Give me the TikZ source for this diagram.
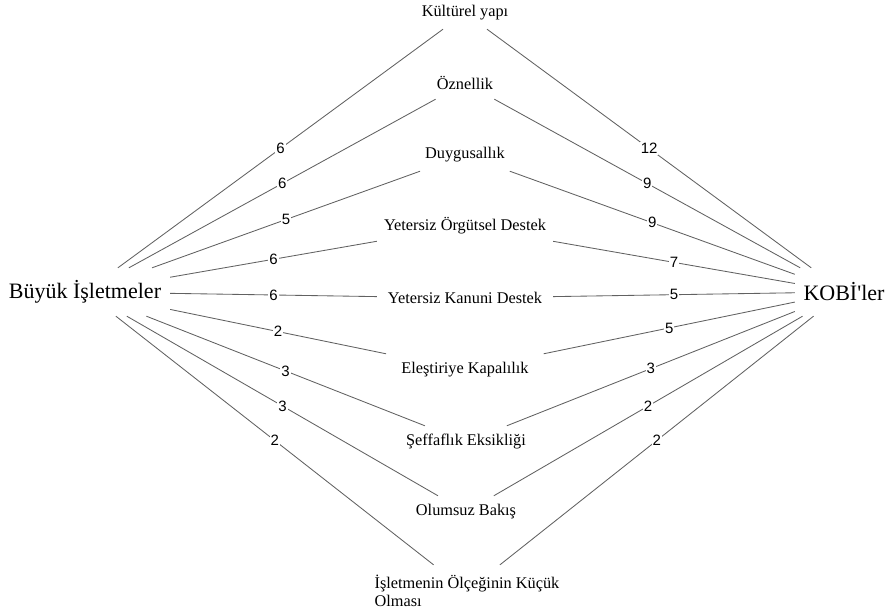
\documentclass[tikz,border=0pt]{standalone}
\usepackage{fontspec}
\setmainfont{Liberation Serif}
\newfontfamily\numfont{Liberation Sans}
\usetikzlibrary{positioning}
\colorlet{linkgray}{black!62}
\tikzset{
  side/.style={inner sep=0pt, minimum height=48pt, font=\fontsize{22}{26}\selectfont},
  factor/.style={inner sep=3pt, minimum width=176pt, minimum height=32pt, font=\fontsize{16.3}{18}\selectfont},
  count/.style={fill=white, inner sep=1pt, font=\numfont\fontsize{15}{15}\selectfont},
  link/.style={draw=linkgray, line width=0.85pt}
}

\begin{document}
\begin{tikzpicture}[x=1pt, y=-1pt]
  \useasboundingbox (0,0) rectangle (887,615);
  % two sides
  \node[side, minimum width=170pt] (big) at (85,292) {Büyük İşletmeler};
  \node[side, minimum width=98pt] (kobi) at (844,292) {KOBİ\textquotesingle ler};

  % factors in the middle column
  \node[factor] (kultur) at (465,13) {Kültürel yapı};
  \node[factor] (oznel) at (465,83) {Öznellik};
  \node[factor] (duygu) at (465,155) {Duygusallık};
  \node[factor] (orgut) at (465,226) {Yetersiz Örgütsel Destek};
  \node[factor] (kanun) at (465,298) {Yetersiz Kanuni Destek};
  \node[factor] (elest) at (465,370) {Eleştiriye Kapalılık};
  \node[factor] (seffaf) at (466,442) {Şeffaflık Eksikliği};
  \node[factor] (olumsuz) at (466,512) {Olumsuz Bakış};
  \node[factor, minimum height=52pt, align=left] (olcek) at (467,591) {İşletmenin Ölçeğinin Küçük\\Olması};

  % left links
  \draw[link] (big) -- node[count] {6} (kultur);
  \draw[link] (big) -- node[count] {6} (oznel);
  \draw[link] (big) -- node[count] {5} (duygu);
  \draw[link] (big) -- node[count] {6} (orgut);
  \draw[link] (big) -- node[count] {6} (kanun);
  \draw[link] (big) -- node[count] {2} (elest);
  \draw[link] (big) -- node[count] {3} (seffaf);
  \draw[link] (big) -- node[count] {3} (olumsuz);
  \draw[link] (big) -- node[count] {2} (olcek);

  % right links
  \draw[link] (kultur) -- node[count] {12} (kobi);
  \draw[link] (oznel) -- node[count] {9} (kobi);
  \draw[link] (duygu) -- node[count] {9} (kobi);
  \draw[link] (orgut) -- node[count] {7} (kobi);
  \draw[link] (kanun) -- node[count] {5} (kobi);
  \draw[link] (elest) -- node[count] {5} (kobi);
  \draw[link] (seffaf) -- node[count] {3} (kobi);
  \draw[link] (olumsuz) -- node[count] {2} (kobi);
  \draw[link] (olcek) -- node[count] {2} (kobi);
\end{tikzpicture}
\end{document}
